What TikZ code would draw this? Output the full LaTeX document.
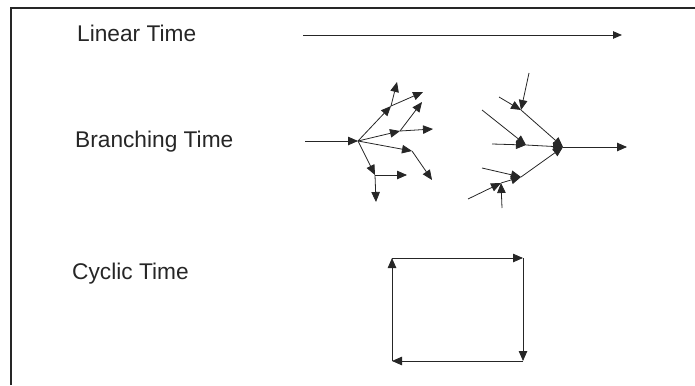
\documentclass[tikz,border=0pt]{standalone}
\usepackage{fontspec}
\setmainfont{Liberation Sans}
\usetikzlibrary{arrows.meta}
\begin{document}
\begin{tikzpicture}[x=1pt,y=-1pt,
  conn/.style={draw=black!85, line width=0.8pt, -{Triangle[length=10pt,width=8.5pt]}},
  plain/.style={draw=black!85, line width=0.8pt},
  lbl/.style={anchor=base west, inner sep=0pt, font=\fontsize{22.7}{27}\selectfont, text=black!85}]
\useasboundingbox (0,0) rectangle (695,385);
\draw[line width=2pt, black!85] (11,385) -- (11,8) -- (695,8);

% labels
\node[lbl] (tlin) at (77,41.7) {Linear Time};
\node[lbl] (tbra) at (75,147.7) {Branching Time};
\node[lbl] (tcyc) at (72,279) {Cyclic Time};

% linear
\coordinate (L0) at (303,35);
\coordinate (L1) at (622,35);
\draw[plain, -{Triangle[length=9pt,width=7.5pt]}] (L0) -- (L1);

% branching tree
\coordinate (S) at (305,141);
\coordinate (R) at (358,141);
\coordinate (A1) at (391,106);
\coordinate (A1u) at (397,82);
\coordinate (A1r) at (423,92);
\coordinate (A2) at (400,131);
\coordinate (A2u) at (422,102);
\coordinate (A2r) at (433,129);
\coordinate (A3) at (412,151);
\coordinate (A3d) at (432,180);
\coordinate (A4) at (375,175);
\coordinate (A4r) at (407,175);
\coordinate (A4d) at (376,202);
\draw[conn] (S) -- (R);
\draw[conn] (R) -- (A1);
\draw[conn] (A1) -- (A1u);
\draw[conn] (A1) -- (A1r);
\draw[conn] (R) -- (A2);
\draw[conn] (A2) -- (A2u);
\draw[conn] (A2) -- (A2r);
\draw[conn] (R) -- (A3);
\draw[conn] (A3) -- (A3d);
\draw[conn] (R) -- (A4);
\draw[conn] (A4) -- (A4r);
\draw[conn] (A4) -- (A4d);

% merging tree
\coordinate (M) at (563,147);
\coordinate (Mo) at (627,147);
\coordinate (B1) at (521,110);
\coordinate (B1a) at (529,73);
\coordinate (B1b) at (499,97);
\coordinate (B2) at (526,145);
\coordinate (B2a) at (482,110);
\coordinate (B2b) at (492,144);
\coordinate (B3) at (521,177);
\coordinate (B3a) at (482,168);
\coordinate (B4) at (501,183);
\coordinate (B4a) at (468,199);
\coordinate (B4b) at (502,208);
\draw[conn] (M) -- (Mo);
\draw[conn] (B1) -- (M);
\draw[conn] (B1a) -- (B1);
\draw[conn] (B1b) -- (B1);
\draw[conn] (B2) -- (M);
\draw[conn] (B2a) -- (B2);
\draw[conn] (B2b) -- (B2);
\draw[conn] (B3) -- (M);
\draw[conn] (B3a) -- (B3);
\draw[conn] (B4) -- (B3);
\draw[conn] (B4a) -- (B4);
\draw[conn] (B4b) -- (B4);

% cyclic
\coordinate (TL) at (392,258);
\coordinate (TR) at (523,258);
\coordinate (BR) at (523,361);
\coordinate (BL) at (392,361);
\draw[conn] (TL) -- (TR);
\draw[conn] (TR) -- (BR);
\draw[conn] (BR) -- (BL);
\draw[conn] (BL) -- (TL);
\end{tikzpicture}
\end{document}
